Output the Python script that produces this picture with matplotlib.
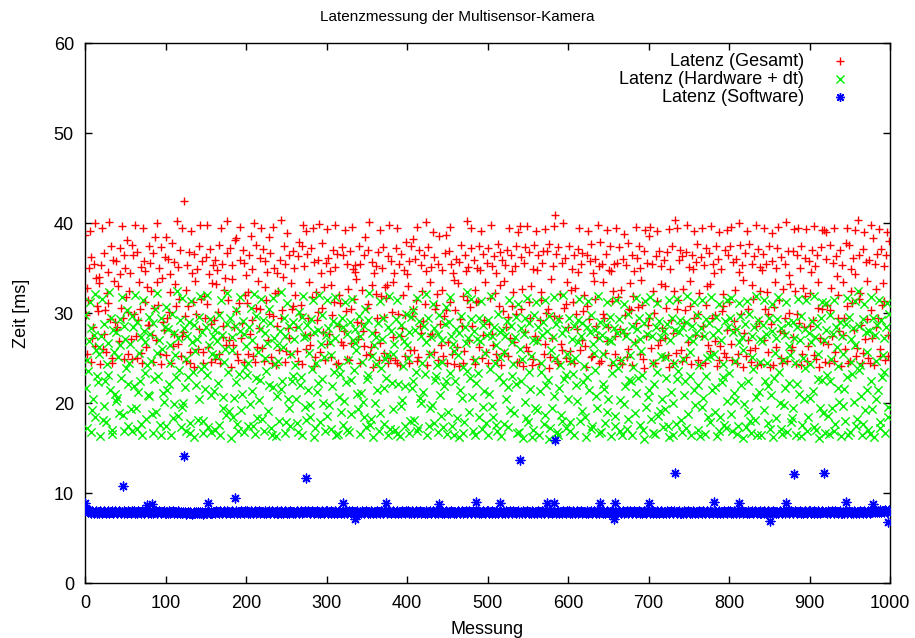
import numpy as np
import matplotlib
matplotlib.use("Agg")
import matplotlib.pyplot as plt
from matplotlib.lines import Line2D

plt.rcParams["font.family"] = ["Liberation Sans", "DejaVu Sans"]

TITLE = "Latenzmessung der Multisensor-Kamera"
X_LABEL = "Messung"
Y_LABEL = "Zeit [ms]"
SERIES_LABELS = ["Latenz (Gesamt)", "Latenz (Hardware + dt)", "Latenz (Software)"]
X_TICKS = list(range(0, 1001, 100))
Y_TICKS = list(range(0, 61, 10))

# Hardware latency (incl. dt) per measurement, ms
HARDWARE_MS = [
    29.8, 21.7, 17.2, 24.8, 23.6, 26.9, 31.2, 16.8, 28.3, 19.2, 20.5, 27.6, 32.1, 18.4, 25.9, 23.0, 22.3, 25.4, 26.2, 16.3,
    27.4, 31.6, 18.1, 19.7, 28.8, 22.4, 17.9, 24.3, 23.1, 26.7, 32.3, 21.4, 29.5, 17.0, 16.6, 28.1, 25.7, 21.0, 20.2, 27.9,
    20.6, 25.1, 18.9, 26.4, 29.3, 22.8, 31.8, 18.7, 16.9, 28.6, 27.1, 23.9, 30.3, 17.5, 22.1, 24.5, 26.6, 19.3, 29.7, 16.9,
    28.5, 21.9, 32.0, 19.5, 17.1, 29.0, 21.2, 25.6, 22.5, 27.3, 17.7, 16.4, 31.5, 28.0, 23.3, 26.8, 18.2, 24.2, 20.9, 29.6,
    20.8, 27.7, 24.7, 18.8, 16.7, 28.9, 22.7, 30.5, 19.0, 25.6, 32.2, 23.0, 27.0, 17.6, 29.4, 16.5, 26.0, 21.1, 20.1, 28.4,
    30.7, 17.4, 21.5, 28.2, 22.1, 24.4, 26.5, 16.5, 29.9, 18.3, 27.8, 19.9, 25.3, 22.9, 32.4, 18.6, 27.2, 23.7, 29.2, 17.3,
    19.6, 31.7, 20.0, 28.3, 21.8, 16.9, 24.9, 27.5, 22.9, 29.0, 16.7, 17.8, 31.3, 26.8, 23.4, 28.7, 16.2, 25.8, 22.0, 27.1,
    18.1, 29.6, 20.4, 31.9, 23.8, 27.9, 16.7, 18.0, 24.1, 21.6, 28.4, 23.1, 32.0, 17.3, 26.4, 29.3, 20.9, 16.8, 25.5, 27.4,
    21.3, 28.1, 17.0, 25.2, 26.9, 22.2, 29.8, 17.6, 16.4, 31.5, 27.6, 19.4, 20.7, 24.6, 26.0, 18.7, 28.8, 32.2, 23.5, 19.1,
    29.4, 16.1, 27.3, 25.9, 18.5, 20.6, 28.6, 22.3, 30.3, 17.7, 16.9, 23.2, 31.8, 28.0, 19.2, 21.0, 29.1, 16.8, 27.7, 24.0,
    26.3, 23.1, 24.5, 17.5, 28.5, 19.9, 30.6, 21.3, 27.0, 17.4, 32.1, 16.6, 29.7, 22.8, 18.3, 25.7, 20.3, 28.2, 22.6, 31.6,
    18.2, 29.2, 16.9, 27.8, 25.0, 23.6, 26.7, 19.1, 30.5, 22.0, 28.9, 17.2, 16.4, 31.7, 21.8, 27.2, 24.3, 16.3, 26.5, 20.8,
    24.7, 18.0, 28.0, 21.6, 32.3, 22.4, 26.2, 29.5, 16.7, 27.5, 17.9, 31.1, 20.4, 28.6, 19.4, 17.4, 25.4, 22.5, 23.0, 29.0,
    27.1, 24.2, 20.5, 17.8, 28.4, 16.8, 30.1, 22.0, 22.9, 29.6, 16.5, 31.9, 27.3, 19.6, 18.1, 27.4, 28.7, 21.4, 25.6, 18.5,
    19.8, 29.3, 23.8, 31.5, 16.2, 27.9, 17.2, 24.4, 21.2, 28.1, 22.2, 32.0, 17.9, 26.6, 29.8, 22.7, 20.0, 25.1, 16.9, 27.6,
    31.4, 18.6, 28.3, 19.8, 26.8, 25.3, 17.1, 21.9, 29.1, 23.4, 27.2, 31.8, 16.4, 28.8, 16.6, 20.7, 24.0, 23.2, 19.0, 29.4,
    17.6, 28.5, 20.2, 31.2, 22.3, 27.7, 17.0, 24.8, 16.8, 29.0, 22.6, 18.8, 31.6, 27.0, 23.7, 28.2, 26.7, 25.9, 21.0, 19.3,
    29.7, 16.6, 27.5, 21.1, 24.6, 20.1, 28.6, 18.4, 30.5, 17.3, 22.7, 29.2, 23.1, 32.2, 17.6, 18.2, 27.8, 25.2, 16.2, 26.5,
    20.0, 24.3, 27.3, 21.5, 28.9, 16.9, 18.9, 31.3, 23.9, 27.1, 29.5, 17.7, 21.7, 24.9, 22.8, 25.3, 28.4, 16.5, 31.9, 17.1,
    28.0, 22.2, 19.3, 25.5, 26.6, 17.0, 29.3, 16.6, 31.5, 22.1, 27.6, 16.3, 19.7, 28.7, 20.3, 24.1, 26.9, 17.4, 21.9, 29.9,
    26.4, 25.0, 16.7, 27.9, 18.0, 29.6, 21.7, 22.5, 30.3, 18.1, 28.1, 23.5, 31.7, 16.9, 17.2, 29.1, 20.6, 27.4, 20.0, 24.5,
    21.2, 28.6, 23.2, 32.1, 26.8, 16.4, 29.4, 17.5, 25.4, 19.5, 27.3, 19.8, 31.0, 17.8, 28.3, 22.6, 23.0, 24.2, 16.8, 27.7,
    29.8, 20.9, 18.6, 27.0, 24.6, 17.3, 21.9, 28.8, 22.4, 30.7, 16.6, 19.0, 29.0, 23.3, 31.8, 27.5, 17.5, 26.6, 16.5, 25.8,
    22.4, 28.2, 18.3, 25.3, 16.2, 27.8, 21.5, 29.7, 20.6, 24.0, 16.7, 17.9, 28.5, 26.7, 32.3, 23.6, 27.2, 19.0, 22.8, 29.3,
    31.6, 20.7, 16.9, 28.0, 16.4, 24.8, 22.2, 27.1, 23.3, 18.4, 29.5, 26.9, 31.3, 17.1, 19.6, 28.7, 21.3, 25.6, 17.8, 27.6,
    16.5, 29.2, 21.0, 23.8, 31.9, 27.4, 19.7, 18.5, 28.4, 24.4, 17.6, 26.4, 16.9, 29.9, 22.9, 27.9, 25.1, 16.3, 28.1, 22.3,
    25.7, 17.7, 27.5, 20.4, 29.1, 21.8, 17.3, 31.5, 19.2, 28.6, 23.0, 26.8, 24.3, 18.9, 27.3, 22.1, 29.6, 16.7, 31.0, 16.8,
    26.0, 28.3, 22.5, 24.9, 16.1, 27.7, 20.1, 29.4, 18.3, 31.7, 17.9, 23.4, 28.9, 21.6, 25.2, 16.2, 17.0, 27.0, 29.8, 19.5,
    31.2, 19.2, 26.9, 28.5, 16.4, 21.3, 24.5, 23.5, 27.6, 29.0, 17.7, 18.7, 31.4, 22.0, 28.0, 22.6, 16.0, 29.7, 17.2, 25.9,
    19.4, 27.3, 20.8, 31.8, 25.0, 28.8, 16.8, 16.5, 29.3, 21.7, 24.2, 18.7, 27.8, 18.0, 32.0, 22.7, 28.2, 17.2, 23.1, 25.5,
    20.5, 29.5, 16.9, 17.9, 24.7, 27.1, 23.2, 28.6, 16.5, 25.0, 22.0, 20.2, 29.2, 26.8, 31.6, 18.0, 27.5, 19.1, 28.9, 22.3,
    24.1, 18.4, 16.2, 28.4, 22.9, 31.3, 21.4, 27.9, 17.1, 29.8, 17.4, 26.6, 25.6, 23.7, 28.1, 20.8, 19.4, 31.9, 27.2, 16.7,
    29.0, 16.8, 27.6, 22.1, 25.4, 21.6, 17.8, 28.7, 19.0, 31.2, 20.5, 27.0, 29.6, 16.3, 26.9, 23.3, 24.6, 28.3, 18.6, 17.5,
    31.5, 27.8, 23.9, 29.3, 16.9, 20.3, 24.8, 16.4, 28.0, 19.9, 31.0, 21.9, 27.4, 17.1, 29.9, 18.2, 22.6, 25.3, 22.4, 28.6,
    16.4, 24.0, 26.7, 18.9, 31.7, 21.1, 28.2, 22.8, 29.4, 17.6, 27.1, 25.8, 23.1, 17.0, 28.9, 16.0, 31.3, 19.6, 27.7, 20.7,
    29.7, 21.4, 31.8, 18.2, 27.5, 16.7, 24.5, 22.1, 16.6, 28.5, 23.4, 31.1, 18.6, 29.1, 19.1, 27.3, 25.2, 20.4, 17.3, 28.0,
    19.3, 25.1, 22.8, 28.8, 17.4, 16.2, 31.4, 27.0, 21.2, 29.5, 20.0, 16.5, 24.4, 28.1, 17.7, 22.7, 31.6, 23.6, 27.9, 29.2,
    18.1, 28.4, 16.8, 24.9, 20.9, 22.4, 29.0, 17.2, 31.9, 18.8, 27.2, 23.0, 25.7, 16.4, 28.6, 26.9, 21.5, 31.2, 19.8, 27.8,
    29.8, 17.0, 22.0, 24.2, 16.3, 28.3, 19.6, 31.5, 20.6, 27.4, 16.6, 29.3, 23.0, 25.0, 18.5, 28.9, 17.9, 25.2, 31.8, 21.5,
    27.6, 25.5, 21.8, 19.0, 29.6, 16.3, 28.1, 16.9, 31.0, 18.5, 27.0, 22.3, 24.3, 22.9, 17.6, 29.1, 17.2, 31.4, 20.2, 28.5,
    23.3, 29.4, 18.8, 31.7, 16.9, 27.9, 21.1, 24.7, 20.3, 28.2, 16.6, 17.5, 31.1, 26.8, 29.7, 22.0, 27.3, 16.1, 25.9, 19.9,
    28.8, 17.3, 31.3, 19.0, 22.5, 29.9, 18.0, 16.7, 25.1, 27.5, 23.8, 28.4, 18.1, 31.9, 20.7, 16.4, 29.2, 21.2, 27.1, 24.6,
    16.5, 26.9, 28.7, 19.2, 31.5, 22.5, 27.7, 24.4, 17.8, 21.9, 29.5, 17.1, 20.9, 31.0, 28.0, 16.2, 22.8, 25.6, 27.2, 18.3,
    29.3, 31.8, 23.5, 20.0, 17.1, 28.3, 16.6, 24.8, 19.8, 27.6, 21.7, 31.2, 16.8, 28.9, 26.3, 22.2, 25.3, 17.9, 18.3, 29.0,
    19.5, 27.2, 24.5, 16.4, 28.5, 22.1, 31.6, 21.0, 27.0, 29.7, 16.3, 17.6, 25.0, 20.5, 23.9, 28.2, 31.4, 16.9, 18.4, 27.8,
    24.3, 20.6, 26.8, 29.1, 21.3, 31.9, 17.3, 27.3, 17.0, 28.6, 22.7, 25.4, 16.1, 19.4, 29.4, 22.6, 31.2, 18.9, 27.0, 16.7,
    28.1, 31.1, 23.1, 18.6, 16.6, 29.8, 22.4, 24.9, 19.5, 27.7, 16.9, 31.5, 17.7, 28.4, 26.2, 21.7, 24.1, 20.1, 29.0, 16.3,
    27.5, 19.7, 25.5, 21.6, 18.0, 28.8, 31.7, 22.9, 16.5, 29.6, 16.8, 27.1, 24.6, 23.2, 28.3, 20.1, 26.4, 31.3, 17.4, 18.2,
    32.4, 28.6, 23.7, 24.2, 20.8, 16.5, 29.3, 17.7, 31.0, 19.2, 27.9, 21.4, 25.7, 17.0, 28.0, 16.6, 22.4, 31.8, 19.3, 29.5,
    16.2, 27.6, 24.7, 20.4, 28.7, 21.5, 31.4, 17.2, 17.9, 29.2, 22.9, 25.3, 23.4, 27.2, 16.7, 28.5, 31.1, 19.6, 18.4, 29.9,
]

# Software latency per measurement, ms (regular readings)
SOFTWARE_BASE_MS = [
    8.3, 8.1, 8.2, 8.0, 7.9, 8.1, 7.9, 7.8, 7.9, 8.0, 7.9, 7.8, 7.9, 7.9, 8.0, 7.8, 7.9, 7.9, 7.8, 8.0,
    7.9, 7.8, 7.9, 8.0, 7.9, 7.9, 7.8, 7.9, 8.0, 7.9, 7.8, 7.9, 7.9, 8.0, 7.9, 7.8, 7.9, 8.0, 7.9, 7.9,
    7.8, 7.9, 8.0, 7.9, 7.9, 7.8, 7.9, 7.9, 8.0, 7.8, 7.9, 7.9, 7.8, 7.9, 8.0, 7.9, 7.9, 7.8, 7.9, 8.0,
    7.9, 8.0, 7.8, 7.9, 7.9, 7.8, 8.0, 7.9, 7.9, 7.8, 7.9, 8.0, 7.9, 7.8, 7.9, 7.9, 8.0, 7.9, 7.8, 7.9,
    7.9, 7.9, 7.8, 8.0, 7.9, 7.8, 7.9, 7.9, 8.0, 7.9, 7.8, 7.9, 8.0, 7.9, 7.9, 7.8, 7.9, 7.9, 8.0, 7.8,
    7.8, 7.9, 7.9, 7.8, 8.0, 7.9, 7.8, 7.9, 7.9, 8.0, 7.9, 7.8, 7.9, 7.9, 7.8, 8.0, 7.9, 7.9, 7.8, 7.9,
    7.8, 7.8, 7.9, 7.8, 7.9, 7.8, 7.7, 7.8, 7.9, 7.8, 7.8, 7.9, 7.8, 7.7, 7.8, 7.9, 7.8, 7.8, 7.9, 7.8,
    7.9, 7.8, 7.8, 7.9, 7.8, 7.9, 7.8, 7.7, 7.8, 7.9, 7.8, 7.9, 7.8, 7.8, 7.9, 7.8, 7.9, 7.8, 7.8, 7.9,
    7.9, 7.8, 7.9, 8.0, 7.9, 7.9, 7.8, 7.9, 8.0, 7.9, 7.8, 7.9, 7.9, 8.0, 7.9, 7.8, 7.9, 8.0, 7.9, 7.9,
    7.8, 7.9, 8.0, 7.9, 7.9, 7.8, 7.9, 7.9, 8.0, 7.8, 7.9, 7.9, 7.8, 7.9, 8.0, 7.9, 7.9, 7.8, 7.9, 8.0,
    7.9, 8.0, 7.8, 7.9, 7.9, 7.8, 8.0, 7.9, 7.9, 7.8, 7.9, 8.0, 7.9, 7.8, 7.9, 7.9, 8.0, 7.9, 7.8, 7.9,
    7.9, 7.9, 7.8, 8.0, 7.9, 7.8, 7.9, 7.9, 8.0, 7.9, 7.8, 7.9, 8.0, 7.9, 7.9, 7.8, 7.9, 7.9, 8.0, 7.8,
    7.8, 7.9, 7.9, 7.8, 8.0, 7.9, 7.8, 7.9, 7.9, 8.0, 7.9, 7.8, 7.9, 7.9, 7.8, 8.0, 7.9, 7.9, 7.8, 7.9,
    7.9, 7.8, 7.9, 8.0, 7.9, 7.9, 7.8, 7.9, 8.0, 7.9, 7.8, 7.9, 7.9, 8.0, 7.9, 7.8, 7.9, 8.0, 7.9, 7.9,
    7.8, 7.9, 8.0, 7.9, 7.9, 7.8, 7.9, 7.9, 8.0, 7.8, 7.9, 7.9, 7.8, 7.9, 8.0, 7.9, 7.9, 7.8, 7.9, 8.0,
    7.9, 8.0, 7.8, 7.9, 7.9, 7.8, 8.0, 7.9, 7.9, 7.8, 7.9, 8.0, 7.9, 7.8, 7.9, 7.9, 8.0, 7.9, 7.8, 7.9,
    7.9, 7.9, 7.8, 8.0, 7.9, 7.8, 7.9, 7.9, 8.0, 7.9, 7.8, 7.9, 8.0, 7.9, 7.9, 7.8, 7.9, 7.9, 8.0, 7.8,
    7.8, 7.9, 7.9, 7.8, 8.0, 7.9, 7.8, 7.9, 7.9, 8.0, 7.9, 7.8, 7.9, 7.9, 7.8, 8.0, 7.9, 7.9, 7.8, 7.9,
    7.9, 7.8, 7.9, 8.0, 7.9, 7.9, 7.8, 7.9, 8.0, 7.9, 7.8, 7.9, 7.9, 8.0, 7.9, 7.8, 7.9, 8.0, 7.9, 7.9,
    7.8, 7.9, 8.0, 7.9, 7.9, 7.8, 7.9, 7.9, 8.0, 7.8, 7.9, 7.9, 7.8, 7.9, 8.0, 7.9, 7.9, 7.8, 7.9, 8.0,
    7.9, 8.0, 7.8, 7.9, 7.9, 7.8, 8.0, 7.9, 7.9, 7.8, 7.9, 8.0, 7.9, 7.8, 7.9, 7.9, 8.0, 7.9, 7.8, 7.9,
    7.9, 7.9, 7.8, 8.0, 7.9, 7.8, 7.9, 7.9, 8.0, 7.9, 7.8, 7.9, 8.0, 7.9, 7.9, 7.8, 7.9, 7.9, 8.0, 7.8,
    7.8, 7.9, 7.9, 7.8, 8.0, 7.9, 7.8, 7.9, 7.9, 8.0, 7.9, 7.8, 7.9, 7.9, 7.8, 8.0, 7.9, 7.9, 7.8, 7.9,
    7.9, 7.8, 7.9, 8.0, 7.9, 7.9, 7.8, 7.9, 8.0, 7.9, 7.8, 7.9, 7.9, 8.0, 7.9, 7.8, 7.9, 8.0, 7.9, 7.9,
    7.8, 7.9, 8.0, 7.9, 7.9, 7.8, 7.9, 7.9, 8.0, 7.8, 7.9, 7.9, 7.8, 7.9, 8.0, 7.9, 7.9, 7.8, 7.9, 8.0,
    7.9, 8.0, 7.8, 7.9, 7.9, 7.8, 8.0, 7.9, 7.9, 7.8, 7.9, 8.0, 7.9, 7.8, 7.9, 7.9, 8.0, 7.9, 7.8, 7.9,
    7.9, 7.9, 7.8, 8.0, 7.9, 7.8, 7.9, 7.9, 8.0, 7.9, 7.8, 7.9, 8.0, 7.9, 7.9, 7.8, 7.9, 7.9, 8.0, 7.8,
    7.8, 7.9, 7.9, 7.8, 8.0, 7.9, 7.8, 7.9, 7.9, 8.0, 7.9, 7.8, 7.9, 7.9, 7.8, 8.0, 7.9, 7.9, 7.8, 7.9,
    7.9, 7.8, 7.9, 8.0, 7.9, 7.9, 7.8, 7.9, 8.0, 7.9, 7.8, 7.9, 7.9, 8.0, 7.9, 7.8, 7.9, 8.0, 7.9, 7.9,
    7.8, 7.9, 8.0, 7.9, 7.9, 7.8, 7.9, 7.9, 8.0, 7.8, 7.9, 7.9, 7.8, 7.9, 8.0, 7.9, 7.9, 7.8, 7.9, 8.0,
    7.9, 8.0, 7.8, 7.9, 7.9, 7.8, 8.0, 7.9, 7.9, 7.8, 7.9, 8.0, 7.9, 7.8, 7.9, 7.9, 8.0, 7.9, 7.8, 7.9,
    7.9, 7.9, 7.8, 8.0, 7.9, 7.8, 7.9, 7.9, 8.0, 7.9, 7.8, 7.9, 8.0, 7.9, 7.9, 7.8, 7.9, 7.9, 8.0, 7.8,
    7.8, 7.9, 7.9, 7.8, 8.0, 7.9, 7.8, 7.9, 7.9, 8.0, 7.9, 7.8, 7.9, 7.9, 7.8, 8.0, 7.9, 7.9, 7.8, 7.9,
    7.9, 7.8, 7.9, 8.0, 7.9, 7.9, 7.8, 7.9, 8.0, 7.9, 7.8, 7.9, 7.9, 8.0, 7.9, 7.8, 7.9, 8.0, 7.9, 7.9,
    7.8, 7.9, 8.0, 7.9, 7.9, 7.8, 7.9, 7.9, 8.0, 7.8, 7.9, 7.9, 7.8, 7.9, 8.0, 7.9, 7.9, 7.8, 7.9, 8.0,
    7.9, 8.0, 7.8, 7.9, 7.9, 7.8, 8.0, 7.9, 7.9, 7.8, 7.9, 8.0, 7.9, 7.8, 7.9, 7.9, 8.0, 7.9, 7.8, 7.9,
    7.9, 7.9, 7.8, 8.0, 7.9, 7.8, 7.9, 7.9, 8.0, 7.9, 7.8, 7.9, 8.0, 7.9, 7.9, 7.8, 7.9, 7.9, 8.0, 7.8,
    7.8, 7.9, 7.9, 7.8, 8.0, 7.9, 7.8, 7.9, 7.9, 8.0, 7.9, 7.8, 7.9, 7.9, 7.8, 8.0, 7.9, 7.9, 7.8, 7.9,
    7.9, 7.8, 7.9, 8.0, 7.9, 7.9, 7.8, 7.9, 8.0, 7.9, 7.8, 7.9, 7.9, 8.0, 7.9, 7.8, 7.9, 8.0, 7.9, 7.9,
    7.8, 7.9, 8.0, 7.9, 7.9, 7.8, 7.9, 7.9, 8.0, 7.8, 7.9, 7.9, 7.8, 7.9, 8.0, 7.9, 7.9, 7.8, 7.9, 8.0,
    7.9, 8.0, 7.8, 7.9, 7.9, 7.8, 8.0, 7.9, 7.9, 7.8, 7.9, 8.0, 7.9, 7.8, 7.9, 7.9, 8.0, 7.9, 7.8, 7.9,
    7.9, 7.9, 7.8, 8.0, 7.9, 7.8, 7.9, 7.9, 8.0, 7.9, 7.8, 7.9, 8.0, 7.9, 7.9, 7.8, 7.9, 7.9, 8.0, 7.8,
    7.8, 7.9, 7.9, 7.8, 8.0, 7.9, 7.8, 7.9, 7.9, 8.0, 7.9, 7.8, 7.9, 7.9, 7.8, 8.0, 7.9, 7.9, 7.8, 7.9,
    7.9, 7.8, 7.9, 8.0, 7.9, 7.9, 7.8, 7.9, 8.0, 7.9, 7.8, 7.9, 7.9, 8.0, 7.9, 7.8, 7.9, 8.0, 7.9, 7.9,
    7.8, 7.9, 8.0, 7.9, 7.9, 7.8, 7.9, 7.9, 8.0, 7.8, 7.9, 7.9, 7.8, 7.9, 8.0, 7.9, 7.9, 7.8, 7.9, 8.0,
    7.9, 8.0, 7.8, 7.9, 7.9, 7.8, 8.0, 7.9, 7.9, 7.8, 7.9, 8.0, 7.9, 7.8, 7.9, 7.9, 8.0, 7.9, 7.8, 7.9,
    7.9, 7.9, 7.8, 8.0, 7.9, 7.8, 7.9, 7.9, 8.0, 7.9, 7.8, 7.9, 8.0, 7.9, 7.9, 7.8, 7.9, 7.9, 8.0, 7.8,
    7.8, 7.9, 7.9, 7.8, 8.0, 7.9, 7.8, 7.9, 7.9, 8.0, 7.9, 7.8, 7.9, 7.9, 7.8, 8.0, 7.9, 7.9, 7.8, 7.9,
    7.9, 7.8, 7.9, 8.0, 7.9, 7.9, 7.8, 7.9, 8.0, 7.9, 7.8, 7.9, 7.9, 8.0, 7.9, 7.8, 7.9, 8.0, 7.9, 8.0,
    8.0, 7.9, 8.0, 8.0, 7.9, 8.0, 7.9, 8.0, 8.1, 7.9, 8.0, 8.0, 7.9, 8.0, 8.1, 8.0, 7.9, 8.0, 8.1, 8.1,
]

# Software latency readings that stand out from the regular band, ms
SOFTWARE_SPIKES_MS = {
    0: 8.9, 47: 10.8, 77: 8.7, 83: 8.8, 123: 14.1, 153: 8.9, 186: 9.5, 275: 11.7,
    320: 8.85, 335: 7.1, 374: 8.85, 440: 8.8, 486: 9.0, 515: 8.85, 540: 13.7,
    574: 8.85, 582: 8.85, 584: 15.9, 640: 8.85, 657: 7.1, 658: 8.85, 700: 8.85,
    733: 12.2, 781: 9.0, 812: 8.85, 851: 6.9, 871: 8.9, 881: 12.1, 918: 12.2,
    945: 9.0, 979: 8.8, 998: 6.8,
}

hardware = np.array(HARDWARE_MS)
software = np.array(SOFTWARE_BASE_MS)
for idx, val in SOFTWARE_SPIKES_MS.items():
    software[idx] = val
total = hardware + software
x = np.arange(len(hardware))

W, H = 915, 638
fig = plt.figure(figsize=(W / 100, H / 100), dpi=100)
ax = fig.add_axes([85 / W, 1 - 583 / H, 805 / W, 540 / H])

RED, GREEN, BLUE = "#ff0000", "#00f000", "#0000ff"
ASTERISK = (8, 2, 0)
S_PLUS, S_CROSS, S_STAR = 40, 36, 40

ax.scatter(x, total, marker="+", s=S_PLUS, c=RED, linewidths=1.0, zorder=2)
ax.scatter(x, hardware, marker="x", s=S_CROSS, c=GREEN, linewidths=1.0, zorder=3)
ax.scatter(x, software, marker=ASTERISK, s=S_STAR, c=BLUE, linewidths=1.0, zorder=4)

ax.set_xlim(0, 1000)
ax.set_ylim(0, 60)
ax.set_xticks(X_TICKS)
ax.set_yticks(Y_TICKS)
ax.tick_params(direction="in", top=True, right=True, length=5, width=1,
               labelsize=13, colors="black")
ax.tick_params(axis="x", pad=9)
ax.tick_params(axis="y", pad=8)
for sp in ax.spines.values():
    sp.set_linewidth(1.0)
    sp.set_color("black")

fig.text(0.5, 1 - 17 / H, TITLE, ha="center", va="center", fontsize=11)
fig.text((85 + 890) / 2 / W, 1 - 629 / H, X_LABEL, ha="center", va="center", fontsize=13)
fig.text(22 / W, 1 - 313 / H, Y_LABEL, ha="center", va="center", rotation=90, fontsize=13)

# legend: right-aligned labels with their marker samples on the right
legend_rows = [(61, "+", RED, S_PLUS), (79, "x", GREEN, S_CROSS), (97, ASTERISK, BLUE, S_STAR)]
for label, (ypx, mk, col, s) in zip(SERIES_LABELS, legend_rows):
    yf = 1 - ypx / H
    fig.text(804 / W, yf, label, ha="right", va="center", fontsize=13)
    fig.add_artist(Line2D([840 / W], [yf], marker=mk, color=col, linestyle="none",
                          markersize=np.sqrt(s), markeredgewidth=1.0,
                          transform=fig.transFigure))

fig.savefig("out.png", dpi=100)
